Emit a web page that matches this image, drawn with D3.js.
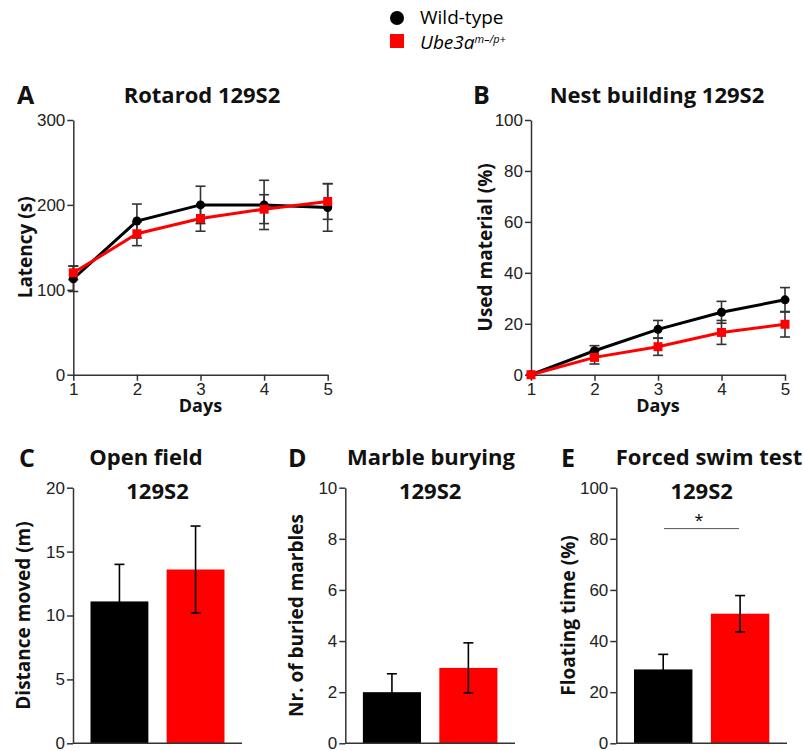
<!DOCTYPE html>
<html>
<head>
<meta charset="utf-8">
<script src="https://cdn.jsdelivr.net/npm/d3@7"></script>
<style>
body { margin: 0; background: #fff; }
svg { font-family: "Open Sans", sans-serif; }
.tick text { font-size: 17px; fill: #222; }
.domain, .tick line { stroke: #333; stroke-width: 1.5; }
.ylab { font-weight: bold; font-size: 19px; fill: #111; }
.xlab { font-weight: bold; font-size: 18px; fill: #111; }
.title { font-weight: bold; font-size: 22px; fill: #111; }
.letter { font-weight: bold; font-size: 25px; fill: #111; }
</style>
</head>
<body>
<div id="container"></div>
<script>
// data
var days = [1, 2, 3, 4, 5];
var groups = ["Wild-type", "Ube3a"];
var colors = ["#000000", "#ff0000"];

var rotarodWT = [113, 181, 200, 200, 197];
var rotarodWTerr = [15, 20, 22, 29, 28];
var rotarodKO = [120, 166, 184, 195, 204];
var rotarodKOerr = [8, 14, 15, 17, 21];

var nestWT = [0, 9.4, 17.8, 24.5, 29.4];
var nestWTerr = [0, 2, 3.5, 4.3, 4.8];
var nestKO = [0, 6.8, 11, 16.6, 19.8];
var nestKOerr = [0, 2.6, 3.4, 4.7, 5];

var openField = [11.1, 13.6];
var openFieldErr = [2.9, 3.4];
var marbles = [2.0, 2.95];
var marblesErr = [0.72, 0.98];
var swim = [28.9, 50.7];
var swimErr = [5.9, 7.1];

var svg = d3.select("#container").append("svg").attr("width", 803).attr("height", 751);

// legend
var legend = svg.append("g").attr("transform", "translate(397,0)");
legend.append("circle").attr("cx", 0).attr("cy", 18).attr("r", 7).attr("fill", colors[0]);
legend.append("rect").attr("x", -7).attr("y", 34).attr("width", 14).attr("height", 14).attr("fill", colors[1]);
legend.append("text").attr("x", 23).attr("y", 24).style("font-size", "19px").text("Wild-type");
var lt = legend.append("text").attr("x", 23).attr("y", 49).style("font-size", "19px").style("font-style", "italic");
lt.append("tspan").text("Ube3a");
lt.append("tspan").attr("dy", -6).style("font-size", "11px").text("m\u2013/p+");

function errorBar(g, x, y, lo, hi, capW, col) {
    g.append("line").attr("x1", x).attr("x2", x).attr("y1", y(lo)).attr("y2", y(hi))
        .attr("stroke", col).attr("stroke-width", 1.6);
    [lo, hi].forEach(function (v) {
        g.append("line").attr("x1", x - capW / 2).attr("x2", x + capW / 2).attr("y1", y(v)).attr("y2", y(v))
            .attr("stroke", col).attr("stroke-width", 1.6);
    });
}

var linePanel = function (opt) {
    var g = svg.append("g");
    var x = d3.scaleLinear().domain([1, 5]).range(opt.xr);
    var y = d3.scaleLinear().domain(opt.yd).range([374.7, 120]);
    g.append("g").attr("transform", "translate(" + opt.xr[0] + ",0)")
        .call(d3.axisLeft(y).tickValues(opt.ticks).tickSize(6).tickPadding(2).tickSizeOuter(0));
    g.append("g").attr("transform", "translate(0,374.7)")
        .call(d3.axisBottom(x).tickValues(days).tickFormat(d3.format("d")).tickSize(6).tickPadding(2).tickSizeOuter(0));

    var series = [
        { vals: opt.wt, err: opt.wtErr, color: colors[0] },
        { vals: opt.ko, err: opt.koErr, color: colors[1] }
    ];
    series.forEach(function (s) {
        s.vals.forEach(function (v, i) {
            if (s.err[i] > 0) errorBar(g, x(days[i]), y, v - s.err[i], v + s.err[i], 10, "#333");
        });
    });
    var line = d3.line().x(function (d, i) { return x(days[i]); }).y(function (d) { return y(d); });
    series.forEach(function (s) {
        g.append("path").datum(s.vals).attr("d", line).attr("fill", "none")
            .attr("stroke", s.color).attr("stroke-width", 3);
    });
    g.selectAll(".dotWT").data(opt.wt).enter().append("circle")
        .attr("cx", function (d, i) { return x(days[i]); }).attr("cy", function (d) { return y(d); })
        .attr("r", 4.5).attr("fill", colors[0]);
    g.selectAll(".dotKO").data(opt.ko).enter().append("rect")
        .attr("x", function (d, i) { return x(days[i]) - 4.5; }).attr("y", function (d) { return y(d) - 4.5; })
        .attr("width", 9).attr("height", 9).attr("fill", colors[1]);

    g.append("text").attr("class", "ylab")
        .attr("transform", "translate(" + opt.ylabX + "," + y(opt.yd[1] / 2) + ") rotate(-90)")
        .attr("text-anchor", "middle").attr("dy", "0.35em").text(opt.ylab);
    g.append("text").attr("class", "xlab").attr("x", x(3)).attr("y", 412).attr("text-anchor", "middle").text("Days");
    g.append("text").attr("class", "title").attr("x", opt.titleX).attr("y", 103).attr("text-anchor", "middle").text(opt.title);
    g.append("text").attr("class", "letter").attr("x", opt.letterX).attr("y", 104).text(opt.letter);
};

linePanel({
    xr: [73.3, 327.7], yd: [0, 300], ticks: [0, 100, 200, 300],
    wt: rotarodWT, wtErr: rotarodWTerr, ko: rotarodKO, koErr: rotarodKOerr,
    ylab: "Latency (s)", ylabX: 25, title: "Rotarod 129S2", titleX: 202, letter: "A", letterX: 17
});
linePanel({
    xr: [531, 785], yd: [0, 100], ticks: [0, 20, 40, 60, 80, 100],
    wt: nestWT, wtErr: nestWTerr, ko: nestKO, koErr: nestKOerr,
    ylab: "Used material (%)", ylabX: 485, title: "Nest building 129S2", titleX: 657, letter: "B", letterX: 473
});

var barPanel = function (opt) {
    var g = svg.append("g");
    var x = d3.scaleBand().domain(groups).range(opt.xr).paddingInner(0.24).paddingOuter(0.23);
    var y = d3.scaleLinear().domain(opt.yd).range([743.3, 487.7]);
    g.selectAll("rect.bar").data(opt.vals).enter().append("rect")
        .attr("x", function (d, i) { return x(groups[i]); })
        .attr("y", function (d) { return y(d); })
        .attr("width", x.bandwidth())
        .attr("height", function (d) { return y(0) - y(d); })
        .attr("fill", function (d, i) { return colors[i]; });
    opt.vals.forEach(function (v, i) {
        errorBar(g, x(groups[i]) + x.bandwidth() / 2, y, v - opt.err[i], v + opt.err[i], 10, "#000");
    });
    g.append("g").attr("transform", "translate(" + opt.xr[0] + ",0)")
        .call(d3.axisLeft(y).tickValues(opt.ticks).tickSize(6).tickPadding(2).tickSizeOuter(0));
    g.append("line").attr("x1", opt.xr[0]).attr("x2", opt.xr[1]).attr("y1", y(0)).attr("y2", y(0))
        .attr("stroke", "#333").attr("stroke-width", 1.5);

    g.append("text").attr("class", "ylab")
        .attr("transform", "translate(" + opt.ylabX + "," + y(opt.yd[1] / 2) + ") rotate(-90)")
        .attr("text-anchor", "middle").attr("dy", "0.35em").text(opt.ylab);
    var cx = (opt.xr[0] + opt.xr[1]) / 2;
    g.append("text").attr("class", "title").attr("x", opt.titleX).attr("y", 465).attr("text-anchor", "middle").text(opt.title);
    g.append("text").attr("class", "title").attr("x", cx).attr("y", 499).attr("text-anchor", "middle").text("129S2");
    g.append("text").attr("class", "letter").attr("x", opt.letterX).attr("y", 467).text(opt.letter);
    return { g: g, x: x, y: y };
};

barPanel({
    xr: [73, 242], yd: [0, 20], ticks: [0, 5, 10, 15, 20], vals: openField, err: openFieldErr,
    ylab: "Distance moved (m)", ylabX: 23, title: "Open field", titleX: 146, letter: "C", letterX: 19
});
barPanel({
    xr: [345.3, 515], yd: [0, 10], ticks: [0, 2, 4, 6, 8, 10], vals: marbles, err: marblesErr,
    ylab: "Nr. of buried marbles", ylabX: 296, title: "Marble burying", titleX: 431, letter: "D", letterX: 288
});
var e = barPanel({
    xr: [616.3, 787], yd: [0, 100], ticks: [0, 20, 40, 60, 80, 100], vals: swim, err: swimErr,
    ylab: "Floating time (%)", ylabX: 568, title: "Forced swim test", titleX: 709, letter: "E", letterX: 561
});
// significance marker
e.g.append("line").attr("x1", 664).attr("x2", 739).attr("y1", e.y(84)).attr("y2", e.y(84))
    .attr("stroke", "#555").attr("stroke-width", 1);
e.g.append("text").attr("x", 699).attr("y", e.y(84) - 3).attr("text-anchor", "middle")
    .style("font-size", "16px").text("*");
</script>
</body>
</html>
